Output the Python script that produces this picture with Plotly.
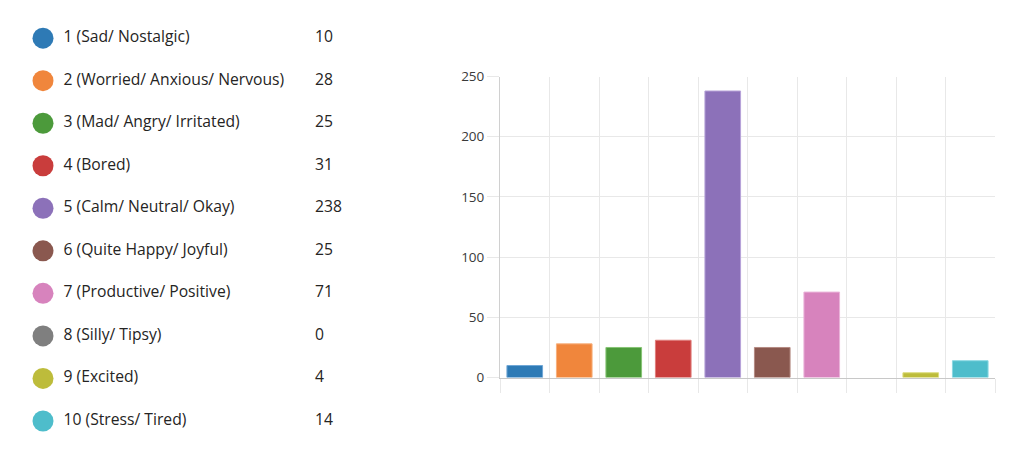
import plotly.graph_objects as go

categories = ["1 (Sad/ Nostalgic)", "2 (Worried/ Anxious/ Nervous)", "3 (Mad/ Angry/ Irritated)",
              "4 (Bored)", "5 (Calm/ Neutral/ Okay)", "6 (Quite Happy/ Joyful)",
              "7 (Productive/ Positive)", "8 (Silly/ Tipsy)", "9 (Excited)", "10 (Stress/ Tired)"]
counts = [10, 28, 25, 31, 238, 25, 71, 0, 4, 14]
colors = ["#2e7ab5", "#f0863c", "#4c9a3b", "#c93d3c", "#8c71b9", "#8a584f",
          "#d783bd", "#7f7f7f", "#bdbc3b", "#4ebdcb"]
outline_colors = ["#6fa7d6", "#f7b07c", "#86c475", "#e07e7c", "#b7a3d9", "#b48a82",
                  "#eab3d9", "rgba(0,0,0,0)", "#dcdc7c", "#8ad8e2"]
y_ticks = [0, 50, 100, 150, 200, 250]

W, H = 1024, 453
n = len(categories)
row0, row_gap = 22.0, 44.3
rows = [row0 + row_gap * i for i in range(n)]

fig = go.Figure()

# bar chart
fig.add_trace(go.Bar(
    x=categories, y=counts,
    marker=dict(color=colors, line=dict(color=outline_colors, width=1)),
    width=0.72, xaxis="x", yaxis="y", showlegend=False, hoverinfo="x+y",
))

# legend panel: colored dots, labels, counts
fig.add_trace(go.Scatter(
    x=[35] * n, y=rows, mode="markers",
    marker=dict(size=21, color=colors, line=dict(width=0)),
    xaxis="x2", yaxis="y2", showlegend=False, hoverinfo="skip",
))
fig.add_trace(go.Scatter(
    x=[55.5] * n, y=rows, mode="text", text=categories, textposition="middle right",
    textfont=dict(family="Open Sans, sans-serif", size=15.7, color="#252423"),
    xaxis="x2", yaxis="y2", showlegend=False, hoverinfo="skip",
))
fig.add_trace(go.Scatter(
    x=[307] * n, y=rows, mode="text", text=[str(c) for c in counts], textposition="middle right",
    textfont=dict(family="Open Sans, sans-serif", size=15.7, color="#252423"),
    xaxis="x2", yaxis="y2", showlegend=False, hoverinfo="skip",
))

grid = "#e8e8e8"
fig.update_layout(
    width=W, height=H,
    margin=dict(l=0, r=0, t=0, b=0),
    paper_bgcolor="white", plot_bgcolor="rgba(0,0,0,0)",
    font=dict(family="Open Sans, sans-serif", color="#333333"),
    xaxis=dict(
        domain=[492 / W, 987 / W], type="category", categoryorder="array", categoryarray=categories,
        range=[-0.5, n - 0.5], showticklabels=False, tickson="boundaries",
        ticks="outside", ticklen=14, tickcolor=grid, tickwidth=1,
        showgrid=True, gridcolor=grid, gridwidth=1,
        showline=True, linecolor="#c8c8c8", linewidth=1, zeroline=False, fixedrange=True,
    ),
    yaxis=dict(
        domain=[1 - 375.5 / H, 1 - 62.0 / H], range=[0, 250], tickvals=y_ticks,
        ticks="outside", ticklen=12, tickcolor=grid, tickwidth=1,
        showgrid=True, gridcolor=grid, gridwidth=1,
        showline=True, linecolor="#d0d0d0", linewidth=1, zeroline=False,
        tickfont=dict(size=13.5, color="#3a3a3a"), fixedrange=True,
    ),
    xaxis2=dict(domain=[0, 400 / W], range=[0, 400], visible=False, fixedrange=True),
    yaxis2=dict(domain=[0, 1], range=[H, 0], visible=False, fixedrange=True),
)

fig.write_html("out.html")
